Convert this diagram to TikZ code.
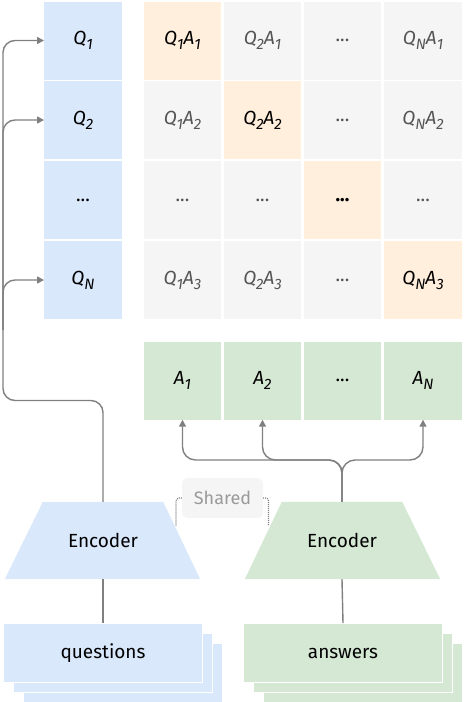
\documentclass[tikz,border=0pt]{standalone}
\usepackage{fontspec}
\setmainfont{Fira Sans}
\usetikzlibrary{arrows.meta,backgrounds}

\definecolor{qblue}{HTML}{DAE8FC}
\definecolor{agreen}{HTML}{D5E8D4}
\definecolor{cellgray}{HTML}{F5F5F5}
\definecolor{hitorange}{HTML}{FFEFDC}
\definecolor{linkgray}{HTML}{808080}
\definecolor{offtext}{HTML}{555555}

\newcommand{\idx}[1]{\raisebox{-0.5ex}{\fontsize{15}{15}\selectfont\itshape #1}}
\newcommand{\qs}[1]{\textit{Q}\idx{#1}}
\newcommand{\as}[1]{\textit{A}\idx{#1}}

\begin{document}
\begin{tikzpicture}[x=1pt, y=-1pt,
    every node/.style={font=\fontsize{19}{22}\selectfont},
    box/.style={minimum width=77.5pt, minimum height=78pt, inner sep=0pt},
    qcell/.style={box, fill=qblue},
    acell/.style={box, fill=agreen},
    offcell/.style={box, fill=cellgray, text=offtext},
    hitcell/.style={box, fill=hitorange},
    enc/.style={minimum width=120pt, minimum height=77pt, inner sep=0pt},
    stack/.style={draw=white, line width=1pt, minimum width=199pt, minimum height=59pt, inner sep=0pt},
    link/.style={draw=linkgray, line width=1.4pt},
    tip/.style={-{Triangle[length=7pt, width=7pt]}},
    share/.style={draw=linkgray, line width=1.1pt, dash pattern=on 1pt off 1pt, rounded corners=3pt}]

    \useasboundingbox (0,0) rectangle (464,702);

    % questions column
    \node[qcell] (Q1) at (83,40.5) {\qs{1}};
    \node[qcell] (Q2) at (83,120) {\qs{2}};
    \node[qcell] (Q3) at (83,200) {...};
    \node[qcell] (QN) at (83,280) {\qs{N}};

    % score matrix
    \node[hitcell] (c11) at (182.5,40.5) {\qs{1}\as{1}};
    \node[offcell] (c21) at (262.5,40.5) {\qs{2}\as{1}};
    \node[offcell] (c31) at (342.5,40.5) {...};
    \node[offcell] (c41) at (423,40.5) {\qs{N}\as{1}};

    \node[offcell] (c12) at (182.5,120) {\qs{1}\as{2}};
    \node[hitcell] (c22) at (262.5,120) {\qs{2}\as{2}};
    \node[offcell] (c32) at (342.5,120) {...};
    \node[offcell] (c42) at (423,120) {\qs{N}\as{2}};

    \node[offcell] (c13) at (182.5,200) {...};
    \node[offcell] (c23) at (262.5,200) {...};
    \node[hitcell] (c33) at (342.5,200) {\textbf{...}};
    \node[offcell] (c43) at (423,200) {...};

    \node[offcell] (c14) at (182.5,280) {\qs{1}\as{3}};
    \node[offcell] (c24) at (262.5,280) {\qs{2}\as{3}};
    \node[offcell] (c34) at (342.5,280) {...};
    \node[hitcell] (c44) at (423,280) {\qs{N}\as{3}};

    % answers row
    \node[acell] (A1) at (182.5,380.5) {\as{1}};
    \node[acell] (A2) at (262.5,380.5) {\as{2}};
    \node[acell] (A3) at (342.5,380.5) {...};
    \node[acell] (AN) at (423,380.5) {\as{N}};

    % encoders
    \node[enc] (encQ) at (103,540.5) {Encoder};
    \node[enc] (encA) at (342,540.5) {Encoder};
    \begin{pgfonlayer}{background}
        \fill[qblue] ([xshift=-38pt]encQ.south west) -- (encQ.north west)
            -- (encQ.north east) -- ([xshift=37pt]encQ.south east) -- cycle;
        \fill[agreen] ([xshift=-37pt]encA.south west) -- (encA.north west)
            -- (encA.north east) -- ([xshift=38pt]encA.south east) -- cycle;
    \end{pgfonlayer}

    % inputs
    \node[stack, fill=qblue] (qback2) at (123,673) {};
    \node[stack, fill=qblue] (qback1) at (113,663) {};
    \node[stack, fill=qblue] (quest) at (103,653) {questions};
    \node[stack, fill=agreen] (aback2) at (363,673) {};
    \node[stack, fill=agreen] (aback1) at (353,663) {};
    \node[stack, fill=agreen] (answ) at (343,653) {answers};

    \draw[link] (encQ.south) -- (quest.north);
    \draw[link] (encA.south) -- (answ.north);

    % shared weights
    \node[fill=cellgray, rounded corners=5pt, minimum width=81pt, minimum height=40pt,
        text=linkgray!80, font=\fontsize{18}{21}\selectfont] (shared) at (222.5,498) {Shared};
    \coordinate (sharedL) at (176,526);
    \coordinate (sharedR) at (268.5,526);
    \draw[share] (shared.west) -| (sharedL);
    \draw[share] (shared.east) -| (sharedR);

    % question embeddings up to the column
    \coordinate (bend) at (3,400.5);
    \coordinate (trunk) at (3,330);
    \draw[link, tip, rounded corners=12pt] (encQ.north) |- (bend) |- (Q1.west);
    \draw[link, tip, rounded corners=12pt] (trunk) |- (Q2.west);
    \draw[link, tip, rounded corners=12pt] (trunk) |- (QN.west);

    % answer embeddings up to the row
    \coordinate (fork) at (342,460);
    \draw[link, tip, rounded corners=13pt] (encA.north) -- (fork) -| (A1.south);
    \draw[link, tip, rounded corners=13pt] (encA.north) -- (fork) -| (A2.south);
    \draw[link, tip, rounded corners=13pt] (encA.north) -- (fork) -| (AN.south);
\end{tikzpicture}
\end{document}
